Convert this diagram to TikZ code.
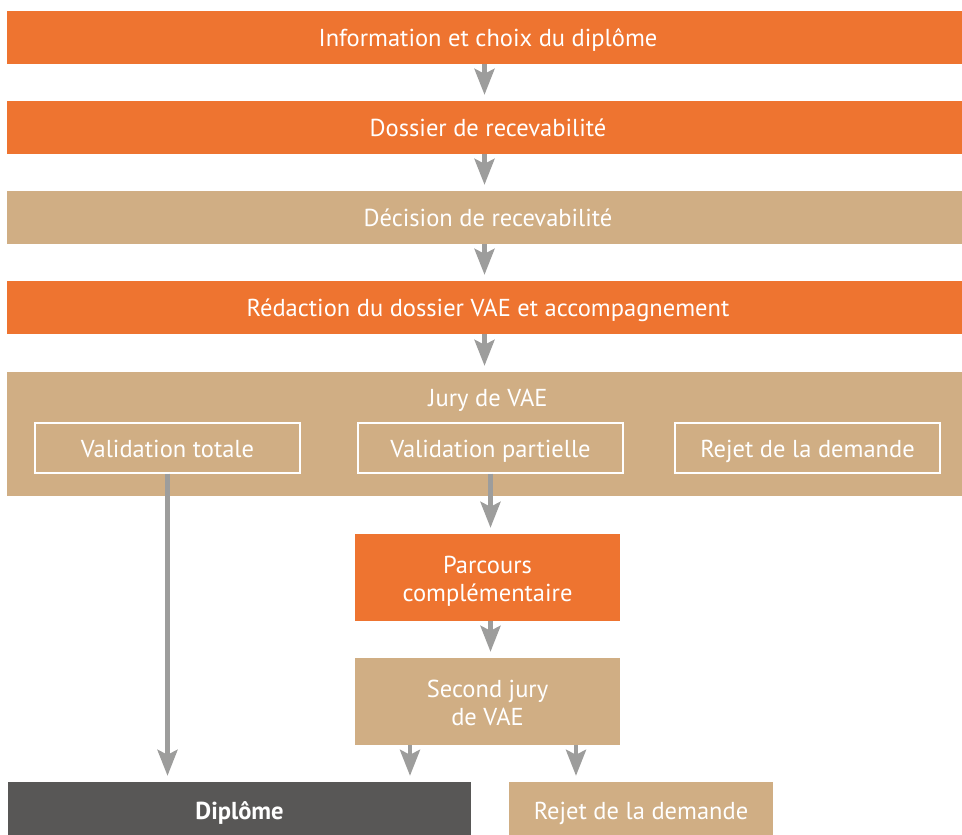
\documentclass[tikz,border=0pt]{standalone}
\usepackage{fontspec}
\setmainfont{PT Sans}
\usetikzlibrary{arrows.meta}
\definecolor{orng}{RGB}{238,116,48}
\definecolor{tan}{RGB}{208,174,132}
\definecolor{dgray}{RGB}{88,87,86}
\definecolor{agray}{RGB}{157,157,156}
\tikzset{
  box/.style={rectangle, inner sep=0pt, text=white, font=\fontsize{24.5}{28}\selectfont,
    align=center, text height=20pt, text depth=2pt},
  obox/.style={box, fill=orng},
  tbox/.style={box, fill=tan},
  wide/.style={minimum width=955pt, minimum height=53pt},
  wbox/.style={box, draw=white, line width=1.2pt, minimum width=265pt, minimum height=50pt},
  mid/.style={minimum width=265pt, minimum height=87pt, text height=50pt, text depth=2pt},
  arr/.style={draw=agray, line width=4.5pt, -{Stealth[length=26pt,width=20pt,inset=5pt]}, shorten >=6pt}
}
\begin{document}
\begin{tikzpicture}[x=1pt,y=-1pt]
\useasboundingbox (0,0) rectangle (962,835);
\node[obox, wide] (b1) at (484.5,37.5) {\hspace*{7pt}Information et choix du diplôme};
\node[obox, wide] (b2) at (484.5,127.5) {\hspace*{7pt}Dossier de recevabilité};
\node[tbox, wide] (b3) at (484.5,217.5) {\hspace*{7pt}Décision de recevabilité};
\node[obox, wide] (b4) at (484.5,307.5) {\hspace*{7pt}Rédaction du dossier VAE et accompagnement};
\node[tbox, minimum width=955pt, minimum height=124pt] (jury) at (484.5,434) {};
\node[box] (jt) at (488,397.7) {Jury de VAE};
\node[wbox] (vt) at (167.5,448) {Validation totale};
\node[wbox] (vp) at (490.5,448) {Validation partielle};
\node[wbox] (rj) at (807.5,448) {Rejet de la demande};
\node[obox, mid] (pc) at (487.5,577.5) {Parcours\\complémentaire};
\node[tbox, mid] (sj) at (487.5,701.5) {Second jury\\de VAE};
\node[box, fill=dgray, minimum width=463pt, minimum height=53pt, text height=23pt, text depth=1pt,
  font=\fontsize{24.5}{28}\selectfont\bfseries] (dip) at (239.5,808.5) {Diplôme};
\node[tbox, minimum width=264pt, minimum height=53pt, text height=23pt, text depth=1pt] (rj2) at (641,808.5) {Rejet de la demande};
\draw[arr] (b1) -- (b2);
\draw[arr] (b2) -- (b3);
\draw[arr] (b3) -- (b4);
\draw[arr] (b4) -- (jury);
\draw[arr] (vp.south) -- (vp.south |- pc.north);
\draw[arr] ([xshift=3pt]pc.south) -- ([xshift=3pt]sj.north);
\draw[arr] (vt.south) -- (vt.south |- dip.north);
\draw[arr] ([xshift=-77.5pt]sj.south) -- ([xshift=-77.5pt]sj.south |- dip.north);
\draw[arr] ([xshift=88.5pt]sj.south) -- ([xshift=88.5pt]sj.south |- rj2.north);
\end{tikzpicture}
\end{document}
